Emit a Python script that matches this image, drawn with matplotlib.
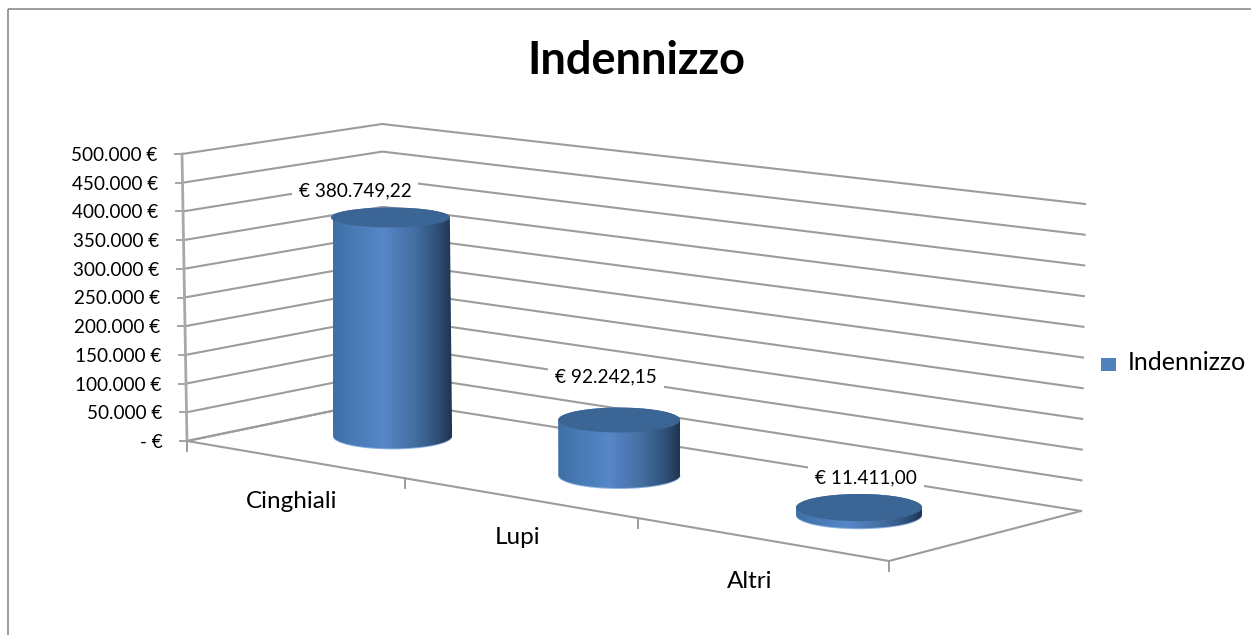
import numpy as np
import matplotlib
matplotlib.use('Agg')
import matplotlib.pyplot as plt
from matplotlib.colors import LinearSegmentedColormap
from matplotlib.patches import Rectangle, Ellipse, PathPatch
from matplotlib.path import Path

# ============================================================
# Data
# ============================================================
categories = ['Cinghiali', 'Lupi', 'Altri']
values = [380749.22, 92242.15, 11411.00]
axis_ticks = [0, 50000, 100000, 150000, 200000, 250000, 300000, 350000, 400000, 450000, 500000]
series_name = 'Indennizzo'
chart_title = 'Indennizzo'

# ============================================================
# Layout constants (pixels)
# ============================================================
FONT = 'Lato'
GRID = '#9c9c9c'
FLOOR_FL = (187, 441)
FLOOR_FR = (889, 561)
FLOOR_BR = (1081, 511)
FLOOR_BL = (385, 400)
# wall height of the full axis: front-left, change along width, change along depth
AXIS_HEIGHT = 287.0
HEIGHT_DU = 31.0
HEIGHT_DV = -11.0
VANISH_X = 698.0
TILT = 3.4e-5
RADIUS_X = [59.5, 61, 63]
CYL_DX = [-2, 0, -1]
CYL_DY = [-2, 0, 0]
LABEL_POS = [(355, 191), (606, 377), (866, 478)]
CAT_POS = [(292, 502), (518, 537), (750, 581)]


def floor_matrix():
    # unit square -> floor quad
    src = [(0, 0), (1, 0), (1, 1), (0, 1)]
    dst = [FLOOR_FL, FLOOR_FR, FLOOR_BR, FLOOR_BL]
    A, b = [], []
    for (u, v), (x, y) in zip(src, dst):
        A.append([u, v, 1, 0, 0, 0, -u * x, -v * x])
        A.append([0, 0, 0, u, v, 1, -u * y, -v * y])
        b += [x, y]
    return np.append(np.linalg.solve(np.array(A, float), np.array(b, float)), 1).reshape(3, 3)


H = floor_matrix()


def project(u, v, val=0.0):
    x, y, w = H @ np.array([u, v, 1.0])
    x, y = x / w, y / w
    h = val / max(axis_ticks) * (AXIS_HEIGHT + HEIGHT_DU * u + HEIGHT_DV * v)
    return x + (x - VANISH_X) * TILT * h, y - h


def fmt_euro(v):
    s = f'{v:,.2f}'.replace(',', 'X').replace('.', ',').replace('X', '.')
    return f'€ {s}'


def fmt_tick(v):
    if v == 0:
        return '- €'
    return f'{v:,.0f}'.replace(',', '.') + ' €'


def ry_at(y):
    return 10 + 0.0125 * (y - 222)


# ============================================================
# Figure
# ============================================================
fig = plt.figure(figsize=(12.51, 6.35), dpi=100)
ax = fig.add_axes([0, 0, 1, 1])
ax.axis('off')

ax.add_patch(Rectangle((7.5, 8.5), 1260, 640, fill=False, ec='#828282', lw=1.1))
ax.text(636, 61, chart_title, ha='center', va='center', fontsize=32.5, fontweight='bold',
        family=FONT, color='black')

# walls
for val in axis_ticks:
    pts = [project(0, 0, val), project(0, 1, val), project(1, 1, val)]
    ax.plot(*zip(*pts), color=GRID, lw=1.5, zorder=1, solid_joinstyle='miter')
    x, y = pts[0]
    ax.plot([x - 7, x], [y, y], color=GRID, lw=1.3, zorder=1)
    ax.text(x - 24.5, y + 1.5, fmt_tick(val), ha='right', va='center', fontsize=13.6, family=FONT, color='black')

# left axis and floor
ax.plot(*zip(project(0, 0), project(0, 0, max(axis_ticks))), color='#a8a8a8', lw=2, zorder=1)
ax.plot(*zip(FLOOR_BL, FLOOR_FL, FLOOR_FR, FLOOR_BR), color=GRID, lw=1.5, zorder=1)
for i in range(len(categories) + 1):
    x, y = project(i / len(categories), 0)
    ax.plot([x, x], [y, y + 10], color=GRID, lw=1.4, zorder=1)

for name, (x, y) in zip(categories, CAT_POS):
    ax.text(x, y, name, ha='center', va='center', fontsize=17.5, family=FONT, color='black')

# cylinders
side_cmap = LinearSegmentedColormap.from_list(
    'side',
    [(0, '#3f6fa6'), (0.15, '#4779b4'), (0.42, '#5687c8'), (0.7, '#436d9f'),
     (0.88, '#2f5078'), (1, '#1f3553')])
grad = np.linspace(0, 1, 256).reshape(1, -1)

for i, val in enumerate(values):
    u = (i + 0.5) / len(categories)
    bx, by = project(u, 0.5)
    tx, ty = project(u, 0.5, val)
    bx, tx = bx + CYL_DX[i], tx + CYL_DX[i]
    by, ty = by + CYL_DY[i], ty + CYL_DY[i]
    rx = RADIUS_X[i]
    rb, rt = ry_at(by), ry_at(ty)

    th = np.linspace(0, np.pi, 60)
    lower = np.column_stack([bx - rx * np.cos(th), by + rb * np.sin(th)])
    upper = np.column_stack([tx + rx * np.cos(th), ty - rt * np.sin(th)])
    verts = np.vstack([lower, upper, lower[0]])
    body = PathPatch(Path(verts), fc='none', ec='none', zorder=3)
    ax.add_patch(body)

    # soft light rim under the base
    ax.add_patch(Ellipse((bx, by + 1), 2 * rx, 2 * rb, fc='#8fb3e0', ec='none', zorder=2.5))
    im = ax.imshow(grad, extent=[bx - rx, bx + rx, by + rb + 2, ty - rt - 2],
                   cmap=side_cmap, aspect='auto', zorder=3, interpolation='bilinear')
    im.set_clip_path(body)
    ax.add_patch(Ellipse((tx, ty), 2 * rx, 2 * rt, fc='#3b6595', ec='none', zorder=4))

# data labels
for val, (x, y) in zip(values, LABEL_POS):
    ax.text(x, y, fmt_euro(val), ha='center', va='center', fontsize=13.7, family=FONT, color='black',
            zorder=5, bbox=dict(fc='white', ec='none', pad=5))

# legend
ax.add_patch(Rectangle((1101, 358), 15, 13, fc='#4f81bd', ec='none'))
ax.text(1128, 363, series_name, ha='left', va='center', fontsize=18, family=FONT, color='black')

ax.set_xlim(0, 1251)
ax.set_ylim(635, 0)
fig.savefig('out.png', dpi=100, facecolor='white')
plt.close(fig)
